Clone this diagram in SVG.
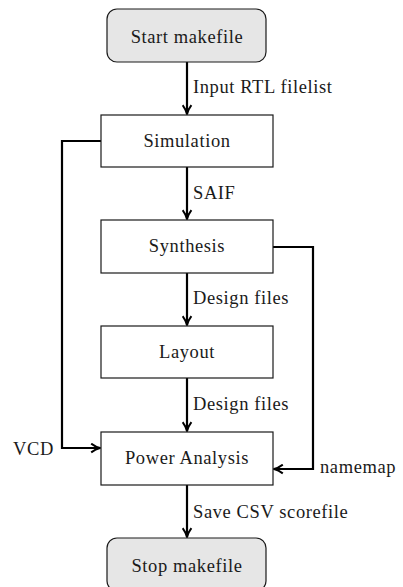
<svg xmlns="http://www.w3.org/2000/svg" width="403" height="587" viewBox="0 0 403 587">
  <style>
    text { font-family: "Liberation Serif", "Times New Roman", serif; font-size: 18.5px; letter-spacing: 0.6px; fill: #1a1a1a; }
    .mid { text-anchor: middle; }
    .box { fill: #ffffff; stroke: #1a1a1a; stroke-width: 1.2; }
    .term { fill: #e6e6e6; stroke: #1a1a1a; stroke-width: 1.2; }
    .conn { fill: none; stroke: #000000; stroke-width: 2.2; marker-end: url(#arrow); }
  </style>
  <defs>
    <!-- chevron-style arrowhead -->
    <marker id="arrow" viewBox="0 0 10 10" refX="9" refY="5" markerWidth="5" markerHeight="5" markerUnits="strokeWidth" orient="auto">
      <path d="M1,1 Q5,4 9,5 Q5,6 1,9" fill="none" stroke="#000" stroke-width="1.8" stroke-linejoin="round"/>
      <path d="M4,3.6 L9,5 L4,6.4 Z" fill="#000"/>
    </marker>
  </defs>

  <g id="connectors">
    <path class="conn" d="M187,62 V114"/>
    <path class="conn" d="M187,167 V219"/>
    <path class="conn" d="M187,273 V325"/>
    <path class="conn" d="M187,378 V431"/>
    <path class="conn" d="M187,485 V537"/>
    <path class="conn" d="M101,141 H62 V448 H100"/>
    <path class="conn" d="M273,247 H313 V469 H274"/>
    <text x="193" y="93">Input RTL filelist</text>
    <text x="193" y="199">SAIF</text>
    <text x="193" y="304">Design files</text>
    <text x="193" y="410">Design files</text>
    <text x="193" y="518">Save CSV scorefile</text>
    <text x="13" y="455">VCD</text>
    <text x="320" y="473">namemap</text>
  </g>

  <g id="start">
    <rect class="term" x="107" y="9" width="159" height="53" rx="10"/>
    <text class="mid" x="187" y="43">Start makefile</text>
  </g>
  <g id="simulation">
    <rect class="box" x="101" y="115" width="172" height="52"/>
    <text class="mid" x="187" y="147">Simulation</text>
  </g>
  <g id="synthesis">
    <rect class="box" x="101" y="220" width="172" height="53"/>
    <text class="mid" x="187" y="252">Synthesis</text>
  </g>
  <g id="layout">
    <rect class="box" x="101" y="326" width="172" height="52"/>
    <text class="mid" x="187" y="358">Layout</text>
  </g>
  <g id="power-analysis">
    <rect class="box" x="101" y="432" width="172" height="53"/>
    <text class="mid" x="187" y="464">Power Analysis</text>
  </g>
  <g id="stop">
    <rect class="term" x="107" y="538" width="159" height="53" rx="10"/>
    <text class="mid" x="187" y="572">Stop makefile</text>
  </g>
</svg>
